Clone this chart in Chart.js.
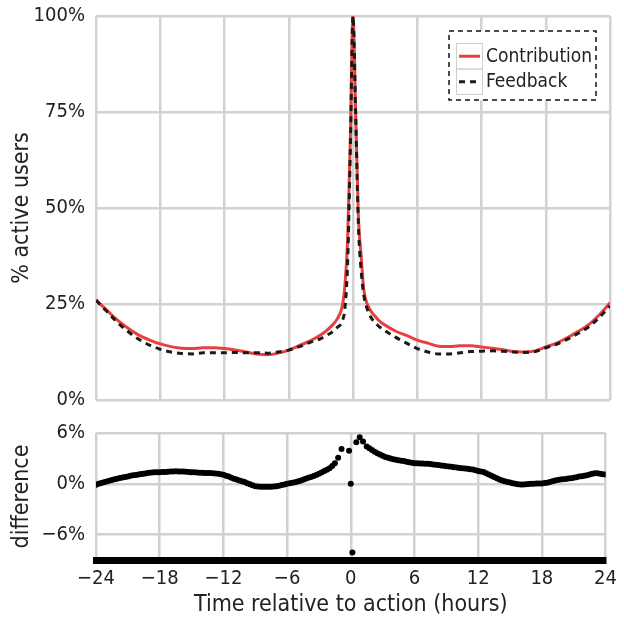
<!DOCTYPE html>
<html>
<head>
<meta charset="utf-8">
<script src="https://cdn.jsdelivr.net/npm/chart.js@4.4.0/dist/chart.umd.min.js"></script>
<style>
  html, body { margin: 0; padding: 0; background: #fff; }
  #wrap { position: relative; width: 624px; height: 622px; }
  #top { position: absolute; left: 0; top: 0; }
  #bot { position: absolute; left: 0; top: 405px; }
</style>
</head>
<body>
<div id="wrap">
  <canvas id="top" width="624" height="425"></canvas>
  <canvas id="bot" width="624" height="217"></canvas>
</div>
<script>
// ---------- data ----------
const hoursTop = [-24,-23,-22,-21,-20,-19,-18,-17,-16,-15,-14,-13,-12,-11,-10,-9,-8,-7,-6,-5,-4,-3,
  -2.5,-2,-1.5,-1,-0.75,-0.5,-0.25,0,0.25,0.5,0.75,1,1.5,2,2.5,
  3,4,5,6,7,8,9,10,11,12,13,14,15,16,17,18,19,20,21,22,23,24];
const contribution = [26.0,23.4,20.8,18.7,16.9,15.6,14.6,13.9,13.5,13.4,13.6,13.6,13.4,13.0,12.5,12.0,11.8,12.2,13.0,14.2,15.4,17.0,
  18.0,19.3,21.0,24.5,30,42,68,100,75,48,38,29,24,22,20.5,
  19.5,17.9,16.8,15.6,14.8,14.0,13.9,14.1,14.1,13.8,13.5,13.1,12.6,12.5,12.8,13.8,14.8,16.2,17.8,19.6,22.2,25.3];
const feedback = [26.0,23.1,20.2,17.8,15.8,14.3,13.2,12.5,12.1,12.0,12.3,12.3,12.3,12.4,12.3,12.3,12.2,12.5,13.0,13.9,15.0,16.0,
  16.8,17.6,18.8,20.6,24,36,65,100,74,46,34,27.5,22.5,20.3,19.0,
  18.0,16.3,14.8,13.4,12.5,12.0,12.0,12.3,12.6,12.7,12.8,12.7,12.5,12.4,12.6,13.6,14.5,15.8,17.3,19.0,21.5,24.5];

// difference (percentage points), quarter-hour bins from -24 h to -1.5 h
const diffBefore = [-0.1,0.0,0.1,0.18,0.27,0.36,0.45,0.53,0.6,0.68,0.75,0.8,0.86,0.94,1.0,1.05,1.1,1.15,1.2,1.25,
  1.3,1.33,1.35,1.36,1.37,1.39,1.4,1.43,1.45,1.46,1.47,1.46,1.45,1.44,1.42,1.4,1.37,1.35,1.33,1.31,
  1.3,1.29,1.28,1.27,1.26,1.22,1.18,1.12,1.06,0.96,0.85,0.72,0.6,0.5,0.4,0.3,0.2,0.07,-0.05,-0.17,
  -0.28,-0.32,-0.35,-0.36,-0.36,-0.35,-0.34,-0.31,-0.28,-0.22,-0.15,-0.08,0,0.06,0.12,0.19,0.27,0.37,0.48,0.59,
  0.7,0.81,0.92,1.05,1.18,1.33,1.5,1.66,1.85,2.1,2.44];
// isolated bins around the action
const nearHours = [-1.19,-0.87,-0.16,0,0.15,0.52,0.84,1.15];
const nearDiff = [3.08,4.1,3.9,0,-8.1,4.9,5.5,5.0];
// quarter-hour bins from 1.5 h to 24 h
const diffAfter = [4.4,4.2,4.0,3.8,3.6,3.45,3.3,3.18,3.08,2.99,2.9,2.84,2.78,2.73,2.68,2.61,2.55,2.49,2.44,2.42,
  2.4,2.39,2.38,2.36,2.33,2.29,2.25,2.21,2.17,2.12,2.08,2.04,2.0,1.96,1.92,1.88,1.85,1.82,1.78,1.73,
  1.68,1.6,1.52,1.45,1.38,1.24,1.1,0.95,0.8,0.65,0.5,0.4,0.3,0.22,0.15,0.07,0.0,-0.05,-0.08,-0.07,
  -0.05,-0.02,0,0.02,0.03,0.04,0.05,0.08,0.12,0.2,0.3,0.38,0.45,0.5,0.55,0.58,0.62,0.67,0.72,0.78,
  0.85,0.9,0.95,1.02,1.1,1.18,1.25,1.24,1.2,1.14,1.1];
const binStep = 0.25;
const beforeStart = -24;
const afterStart = 1.5;

const xTicks = [-24,-18,-12,-6,0,6,12,18,24];
const xTickLabels = ['\u221224','\u221218','\u221212','\u22126','0','6','12','18','24'];
const yTopTicks = [0,25,50,75,100];
const yTopLabels = ['0%','25%','50%','75%','100%'];
const yBotTicks = [-6,0,6];
const yBotLabels = ['\u22126%','0%','6%'];
const seriesNames = ['Contribution','Feedback'];

// ---------- styles ----------
const FONT = "'DejaVu Sans Condensed', 'DejaVu Sans', sans-serif";
const GRID = '#d2d2d2';
const TXT = '#222';
const RED = '#e8403f';
Chart.defaults.font.family = FONT;
Chart.defaults.color = TXT;

function pts(xs, ys) { return xs.map((x, i) => ({x: x, y: ys[i]})); }
function binned(start, vals) { return vals.map((v, i) => ({x: start + i * binStep, y: v})); }
function fixTicks(values) { return function(scale){ scale.ticks = values.map(v => ({value: v})); }; }
function labelFor(values, labels) { return function(v){ const i = values.indexOf(v); return i >= 0 ? labels[i] : ''; }; }
function yFit(s) { s.width = 96; s.paddingTop = 0; s.paddingBottom = 0; }

const diffPoints = binned(beforeStart, diffBefore).concat(pts(nearHours, nearDiff), binned(afterStart, diffAfter));

const legendBox = {
  id: 'legendBox',
  afterDraw(chart) {
    const ctx = chart.ctx, a = chart.chartArea;
    const x0 = a.right - 161, y0 = a.top + 15, w = 147, h = 69;
    ctx.save();
    ctx.fillStyle = '#fff';
    ctx.fillRect(x0, y0, w, h);
    ctx.setLineDash([5, 4]);
    ctx.strokeStyle = '#111';
    ctx.lineWidth = 1.5;
    ctx.strokeRect(x0, y0, w, h);
    const rowH = 25.5, cellX = x0 + 7, cellW = 26, top = y0 + 12;
    chart.data.datasets.forEach((ds, i) => {
      const ry = top + i * rowH;
      ctx.setLineDash([]);
      ctx.strokeStyle = '#cfcfcf';
      ctx.lineWidth = 1;
      ctx.strokeRect(cellX + 0.5, ry + 0.5, cellW, rowH);
      ctx.strokeStyle = ds.borderColor;
      ctx.lineWidth = ds.borderWidth;
      ctx.setLineDash(ds.borderDash || []);
      ctx.beginPath();
      ctx.moveTo(cellX + 3, ry + rowH / 2 + 0.5);
      ctx.lineTo(cellX + cellW - 2, ry + rowH / 2 + 0.5);
      ctx.stroke();
      ctx.setLineDash([]);
      ctx.fillStyle = TXT;
      ctx.font = '19px ' + FONT;
      ctx.textBaseline = 'middle';
      ctx.textAlign = 'left';
      ctx.fillText(ds.label, cellX + cellW + 4, ry + rowH / 2 + 1);
    });
    ctx.restore();
  }
};

new Chart(document.getElementById('top'), {
  type: 'line',
  data: {
    datasets: [
      { label: seriesNames[0], data: pts(hoursTop, contribution), borderColor: RED, borderWidth: 3,
        pointRadius: 0, cubicInterpolationMode: 'monotone', order: 1 },
      { label: seriesNames[1], data: pts(hoursTop, feedback), borderColor: '#1a1a1a', borderWidth: 3,
        borderDash: [6, 5], pointRadius: 0, cubicInterpolationMode: 'monotone', order: 0 }
    ]
  },
  options: {
    responsive: false, animation: false, devicePixelRatio: 1,
    layout: { padding: { top: 16, right: 14, left: 0, bottom: 0 } },
    plugins: { legend: { display: false }, tooltip: { enabled: false } },
    scales: {
      x: { type: 'linear', min: -24, max: 24,
        afterBuildTicks: fixTicks(xTicks),
        afterFit: s => { s.height = 25; },
        grid: { color: GRID, lineWidth: 2.5, drawTicks: false },
        border: { display: false },
        ticks: { display: false } },
      y: { min: 0, max: 100,
        afterBuildTicks: fixTicks(yTopTicks),
        afterFit: yFit,
        grid: { color: GRID, lineWidth: 2.5, drawTicks: false },
        border: { display: false },
        ticks: { padding: 11, font: { size: 20 }, color: TXT, callback: labelFor(yTopTicks, yTopLabels) },
        title: { display: true, text: '% active users', font: { size: 23 }, color: TXT, padding: { top: 8, bottom: 0 } } }
    }
  },
  plugins: [legendBox]
});

new Chart(document.getElementById('bot'), {
  type: 'scatter',
  data: {
    datasets: [
      { label: 'difference', data: diffPoints, backgroundColor: '#000', borderColor: '#000',
        pointRadius: 3, borderWidth: 0, showLine: false }
    ]
  },
  options: {
    responsive: false, animation: false, devicePixelRatio: 1,
    layout: { padding: { top: 28, right: 14, left: 0, bottom: 0 } },
    plugins: { legend: { display: false }, tooltip: { enabled: false } },
    scales: {
      x: { type: 'linear', min: -24, max: 24,
        afterBuildTicks: fixTicks(xTicks),
        afterFit: s => { s.height = 62; },
        grid: { color: GRID, lineWidth: 2.5, drawTicks: false },
        border: { display: true, color: '#000', width: 7 },
        ticks: { padding: 7, font: { size: 20 }, color: TXT, maxRotation: 0, callback: labelFor(xTicks, xTickLabels) },
        title: { display: true, text: 'Time relative to action (hours)', font: { size: 23 }, color: TXT, padding: { top: 0, bottom: 3 } } },
      y: { min: -9, max: 6,
        afterBuildTicks: fixTicks(yBotTicks),
        afterFit: yFit,
        grid: { color: GRID, lineWidth: 2.5, drawTicks: false },
        border: { display: false },
        ticks: { padding: 11, font: { size: 20 }, color: TXT, callback: labelFor(yBotTicks, yBotLabels) },
        title: { display: true, text: 'difference', font: { size: 23 }, color: TXT, padding: { top: 8, bottom: 0 } } }
    }
  }
});
</script>
</body>
</html>
